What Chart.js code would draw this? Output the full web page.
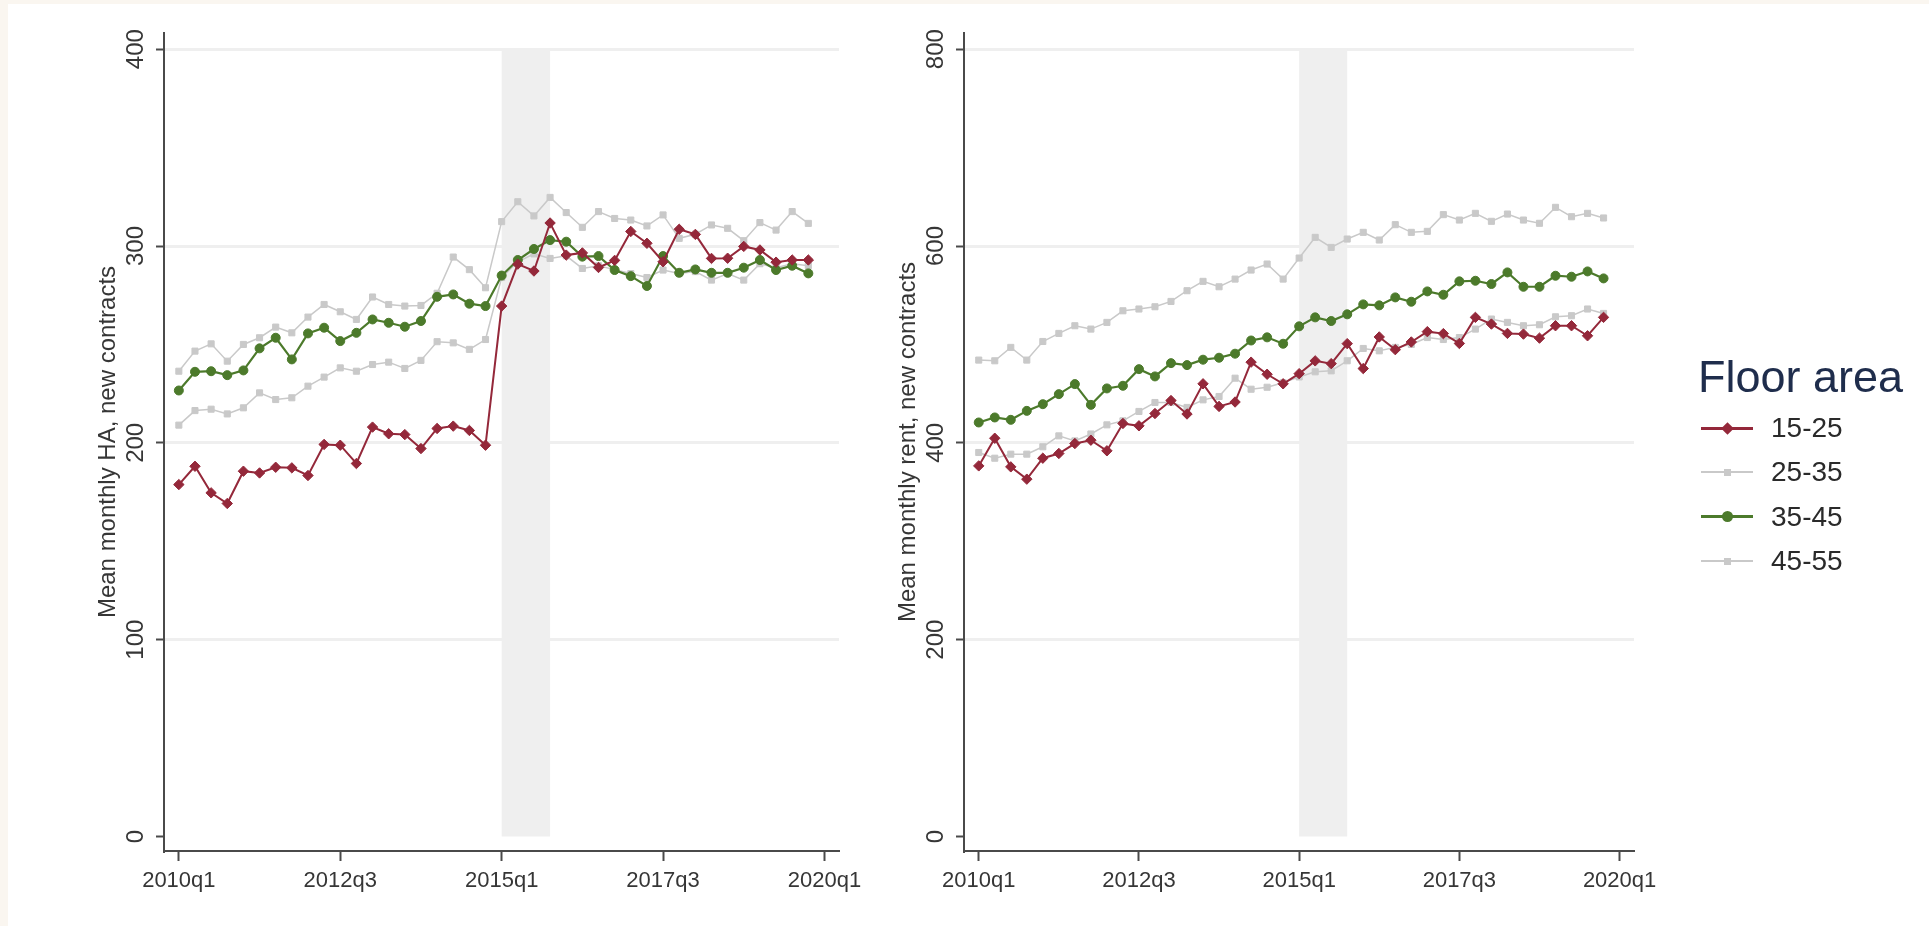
<!DOCTYPE html>
<html>
<head>
<meta charset="utf-8">
<title>Housing allowance and rent by floor area</title>
<script src="https://cdn.jsdelivr.net/npm/chart.js@4.4.1/dist/chart.umd.min.js"></script>
<style>
  html, body { margin: 0; padding: 0; background: #ffffff; width: 1929px; height: 926px; overflow: hidden; }
  .edge-top { position: absolute; left: 0; top: 0; width: 1929px; height: 4px; background: #faf6f0; }
  .edge-left { position: absolute; left: 0; top: 0; width: 8px; height: 926px; background: #faf6f0; }
  canvas { position: absolute; top: 0; }
  #haCanvas { left: 0; }
  #rentCanvas { left: 800px; }
  .legend { position: absolute; left: 0; top: 0; font-family: "Liberation Sans", Arial, sans-serif; }
  .legend .title { position: absolute; left: 1698px; top: 354px; font-size: 45px; line-height: 45px; color: #1f2d4c; white-space: nowrap; }
  .legend .item { position: absolute; left: 1701px; height: 28px; width: 220px; }
  .legend .item .txt { position: absolute; left: 70px; top: 0; font-size: 28px; line-height: 28px; color: #2a2a2a; white-space: nowrap; }
  .legend .item .ln { position: absolute; left: 0; width: 52px; }
  .legend .item .mk { position: absolute; }
</style>
</head>
<body>
<div class="edge-top"></div>
<div class="edge-left"></div>
<canvas id="haCanvas" width="900" height="926"></canvas>
<canvas id="rentCanvas" width="900" height="926"></canvas>
<div class="legend" id="legend"></div>

<script>
// Quarters covered by the series
const quarters = [
  '2010q1','2010q2','2010q3','2010q4','2011q1','2011q2','2011q3','2011q4',
  '2012q1','2012q2','2012q3','2012q4','2013q1','2013q2','2013q3','2013q4',
  '2014q1','2014q2','2014q3','2014q4','2015q1','2015q2','2015q3','2015q4',
  '2016q1','2016q2','2016q3','2016q4','2017q1','2017q2','2017q3','2017q4',
  '2018q1','2018q2','2018q3','2018q4','2019q1','2019q2','2019q3','2019q4'
];

// Labelled ticks on the time axis
const timeTicks = ['2010q1', '2012q3', '2015q1', '2017q3', '2020q1'];

// Shaded reform period
const reformStart = '2015q1';
const reformEnd = '2015q4';

// Floor area groups (m2)
const floorAreas = ['15-25', '25-35', '35-45', '45-55'];

// Mean monthly housing allowance, new contracts
const ha_15_25 = [178.8, 188.1, 174.6, 169.2, 185.6, 184.7, 187.6, 187.3, 183.4, 199.2,
                  198.8, 189.5, 208.0, 204.6, 204.2, 197.1, 207.3, 208.5, 206.3, 198.8,
                  269.5, 290.8, 287.3, 311.7, 295.4, 296.5, 289.1, 292.7, 307.4, 301.4,
                  292.0, 308.5, 305.9, 293.7, 293.8, 299.8, 298.0, 291.8, 292.9, 292.9];
const ha_25_35 = [209.0, 216.4, 217.1, 214.7, 217.8, 225.4, 222.0, 222.9, 228.8, 233.4,
                  238.1, 236.4, 239.8, 241.0, 237.8, 241.9, 251.4, 250.8, 247.5, 252.5,
                  284.0, 292.0, 296.0, 293.7, 295.0, 288.6, 290.0, 288.0, 286.0, 284.0,
                  287.8, 286.0, 287.0, 282.7, 286.0, 282.7, 291.0, 289.0, 291.0, 290.0];
const ha_35_45 = [226.6, 236.1, 236.4, 234.4, 236.8, 248.0, 253.4, 242.4, 255.6, 258.5,
                  251.7, 255.9, 262.7, 261.0, 259.0, 261.9, 274.2, 275.4, 270.7, 269.5,
                  285.0, 292.9, 298.5, 303.0, 302.2, 294.6, 294.9, 287.8, 284.7, 279.7,
                  294.9, 286.4, 288.1, 286.4, 286.4, 289.0, 292.9, 287.8, 290.0, 286.1];
const ha_45_55 = [236.4, 246.6, 250.3, 241.5, 250.0, 253.4, 258.8, 255.9, 263.9, 270.3,
                  266.6, 262.7, 274.1, 270.3, 269.5, 269.8, 276.0, 294.4, 288.0, 278.8,
                  312.4, 322.5, 315.3, 324.7, 317.0, 309.5, 317.5, 314.0, 313.2, 310.2,
                  315.8, 303.9, 306.0, 310.7, 309.0, 302.7, 311.9, 308.1, 317.5, 311.5];

// Mean monthly rent, new contracts
const rent_15_25 = [376.6, 404.7, 375.6, 363.1, 384.4, 389.2, 399.3, 402.7, 391.9, 419.7,
                    417.3, 429.8, 443.0, 429.3, 460.0, 437.0, 441.5, 482.0, 469.7, 460.0,
                    470.3, 483.3, 480.5, 500.8, 475.5, 507.6, 494.7, 502.5, 513.0, 511.0,
                    501.0, 527.5, 520.7, 511.2, 510.5, 506.4, 519.0, 519.0, 508.8, 527.5];
const rent_25_35 = [390.2, 384.4, 388.5, 388.5, 396.0, 407.1, 402.0, 409.0, 418.3, 422.4,
                    431.9, 441.0, 441.0, 436.0, 443.7, 447.1, 465.7, 454.5, 456.5, 461.0,
                    467.0, 472.2, 473.2, 483.4, 495.9, 493.5, 497.0, 500.0, 507.0, 505.0,
                    507.0, 515.6, 525.8, 522.4, 519.0, 520.0, 528.1, 529.2, 536.0, 531.5];
const rent_35_45 = [420.7, 425.8, 423.4, 432.5, 439.3, 449.5, 459.7, 438.6, 455.3, 458.0,
                    474.9, 467.5, 481.0, 479.0, 484.5, 486.5, 490.6, 504.0, 507.2, 500.7,
                    518.4, 527.5, 523.8, 530.6, 540.7, 539.7, 547.8, 543.4, 553.9, 550.5,
                    564.1, 564.7, 561.4, 573.2, 558.6, 558.6, 569.8, 568.8, 574.2, 567.1];
const rent_45_55 = [484.1, 483.4, 497.0, 484.1, 503.0, 511.2, 519.0, 515.6, 522.4, 534.2,
                    536.0, 538.3, 543.7, 554.6, 564.1, 558.6, 566.4, 575.6, 581.7, 566.4,
                    587.8, 608.8, 598.6, 607.1, 613.9, 606.1, 621.7, 613.9, 614.9, 631.9,
                    626.4, 633.2, 625.1, 632.5, 626.4, 623.1, 639.3, 629.8, 633.2, 628.5];

// Value-axis ticks
const haTicks = [0, 100, 200, 300, 400];
const rentTicks = [0, 200, 400, 600, 800];

const FONT = '"Liberation Sans", Arial, sans-serif';
const AXIS_COLOR = '#4a4a4a';
const TEXT_COLOR = '#363636';
const GRID_COLOR = '#efefef';
const BAND_COLOR = '#efefef';

const seriesStyle = {
  '15-25': { color: '#94283a', point: 'rectRot', radius: 5.2, line: 2.0 },
  '25-35': { color: '#c9c9c9', point: 'rect', radius: 4.3, line: 1.5 },
  '35-45': { color: '#4c7a2b', point: 'circle', radius: 4.5, line: 2.2 },
  '45-55': { color: '#c9c9c9', point: 'rect', radius: 4.3, line: 1.5 }
};

// Position of a quarter label on the numeric time axis (2010q1 = 0)
function quarterIndex(label) {
  const year = parseInt(label.slice(0, 4), 10);
  const q = parseInt(label.slice(5), 10);
  return (year - 2010) * 4 + (q - 1);
}

function toPoints(values) {
  return quarters.map((q, i) => ({ x: quarterIndex(q), y: values[i] }));
}

// Datasets: the first one is painted on top
function buildDatasets(byArea) {
  const drawOrder = ['15-25', '35-45', '25-35', '45-55'];
  return drawOrder.map(area => {
    const s = seriesStyle[area];
    return {
      label: area,
      data: toPoints(byArea[area]),
      borderColor: s.color,
      backgroundColor: s.color,
      borderWidth: s.line,
      pointStyle: s.point,
      pointRadius: s.radius,
      pointBorderWidth: 1,
      pointBackgroundColor: s.color,
      pointBorderColor: s.color,
      tension: 0,
      fill: false
    };
  });
}

// Shaded band over the reform quarters, drawn under the series
const reformBand = {
  id: 'reformBand',
  beforeDatasetsDraw(chart, args, opts) {
    const { ctx, scales: { x, y } } = chart;
    const x0 = x.getPixelForValue(quarterIndex(opts.from));
    const x1 = x.getPixelForValue(quarterIndex(opts.to));
    const yTop = y.getPixelForValue(opts.top);
    const yBottom = y.getPixelForValue(0);
    ctx.save();
    ctx.fillStyle = opts.color;
    ctx.fillRect(x0, yTop, x1 - x0, yBottom - yTop);
    ctx.restore();
  }
};

function panelOptions(valueTicks, yTitle, rightPad) {
  const top = valueTicks[valueTicks.length - 1];
  const perPixel = top / 787.3;          // value units per pixel on the value axis
  return {
    responsive: false,
    animation: false,
    devicePixelRatio: 1,
    layout: { padding: { left: 0, right: rightPad, top: 33, bottom: 0 } },
    plugins: {
      legend: { display: false },
      tooltip: { enabled: false },
      reformBand: { from: reformStart, to: reformEnd, top: top, color: BAND_COLOR }
    },
    scales: {
      x: {
        type: 'linear',
        min: -0.92,
        max: 40.9,
        afterBuildTicks: s => { s.ticks = timeTicks.map(t => ({ value: quarterIndex(t) })); },
        afterFit: s => { s.height = 75; },
        ticks: {
          autoSkip: false,
          maxRotation: 0,
          minRotation: 0,
          padding: 7,
          color: TEXT_COLOR,
          font: { family: FONT, size: 22 },
          callback: (v, i) => timeTicks[i]
        },
        grid: { drawOnChartArea: false, drawTicks: true, tickLength: 10, tickColor: AXIS_COLOR, tickWidth: 2 },
        border: { display: true, color: AXIS_COLOR, width: 2 }
      },
      y: {
        type: 'linear',
        min: -14.5 * perPixel,
        max: top + 16.2 * perPixel,
        afterBuildTicks: s => { s.ticks = valueTicks.map(v => ({ value: v })); },
        afterFit: s => { s.width = 164; },
        ticks: {
          minRotation: 90,
          maxRotation: 90,
          crossAlign: 'center',
          padding: 0,
          color: TEXT_COLOR,
          font: { family: FONT, size: 24 },
          callback: v => String(v)
        },
        grid: {
          color: c => (c.tick && c.tick.value === 0) ? 'rgba(0,0,0,0)' : GRID_COLOR,
          lineWidth: 3,
          drawTicks: true,
          tickLength: 8,
          tickColor: AXIS_COLOR,
          tickWidth: 2
        },
        border: { display: true, color: AXIS_COLOR, width: 2 },
        title: {
          display: true,
          text: yTitle,
          color: TEXT_COLOR,
          font: { family: FONT, size: 24 },
          padding: { top: 94, bottom: 0 }
        }
      }
    }
  };
}

Chart.defaults.font.family = FONT;

new Chart(document.getElementById('haCanvas'), {
  type: 'line',
  data: {
    datasets: buildDatasets({ '15-25': ha_15_25, '25-35': ha_25_35, '35-45': ha_35_45, '45-55': ha_45_55 })
  },
  options: panelOptions(haTicks, 'Mean monthly HA, new contracts', 61),
  plugins: [reformBand]
});

new Chart(document.getElementById('rentCanvas'), {
  type: 'line',
  data: {
    datasets: buildDatasets({ '15-25': rent_15_25, '25-35': rent_25_35, '35-45': rent_35_45, '45-55': rent_45_55 })
  },
  options: panelOptions(rentTicks, 'Mean monthly rent, new contracts', 66),
  plugins: [reformBand]
});

// Legend
(function buildLegend() {
  const box = document.getElementById('legend');
  const title = document.createElement('div');
  title.className = 'title';
  title.textContent = 'Floor area';
  box.appendChild(title);

  const rowCenters = [428, 472.4, 516.7, 561];
  floorAreas.forEach((area, i) => {
    const s = seriesStyle[area];
    const item = document.createElement('div');
    item.className = 'item';
    item.style.top = (rowCenters[i] - 14) + 'px';

    const heavy = area === '15-25' || area === '35-45';
    const ln = document.createElement('div');
    ln.className = 'ln';
    const lw = heavy ? 3 : 2;
    ln.style.height = lw + 'px';
    ln.style.top = (14 - lw / 2) + 'px';
    ln.style.background = s.color;
    item.appendChild(ln);

    const mk = document.createElement('div');
    mk.className = 'mk';
    let size;
    if (s.point === 'rectRot') {
      size = 9;
      mk.style.transform = 'rotate(45deg)';
    } else if (s.point === 'circle') {
      size = 11;
      mk.style.borderRadius = '50%';
    } else {
      size = 7;
    }
    mk.style.width = size + 'px';
    mk.style.height = size + 'px';
    mk.style.left = (26 - size / 2) + 'px';
    mk.style.top = (14 - size / 2) + 'px';
    mk.style.background = s.color;
    item.appendChild(mk);

    const txt = document.createElement('div');
    txt.className = 'txt';
    txt.textContent = area;
    item.appendChild(txt);

    box.appendChild(item);
  });
})();
</script>
</body>
</html>
